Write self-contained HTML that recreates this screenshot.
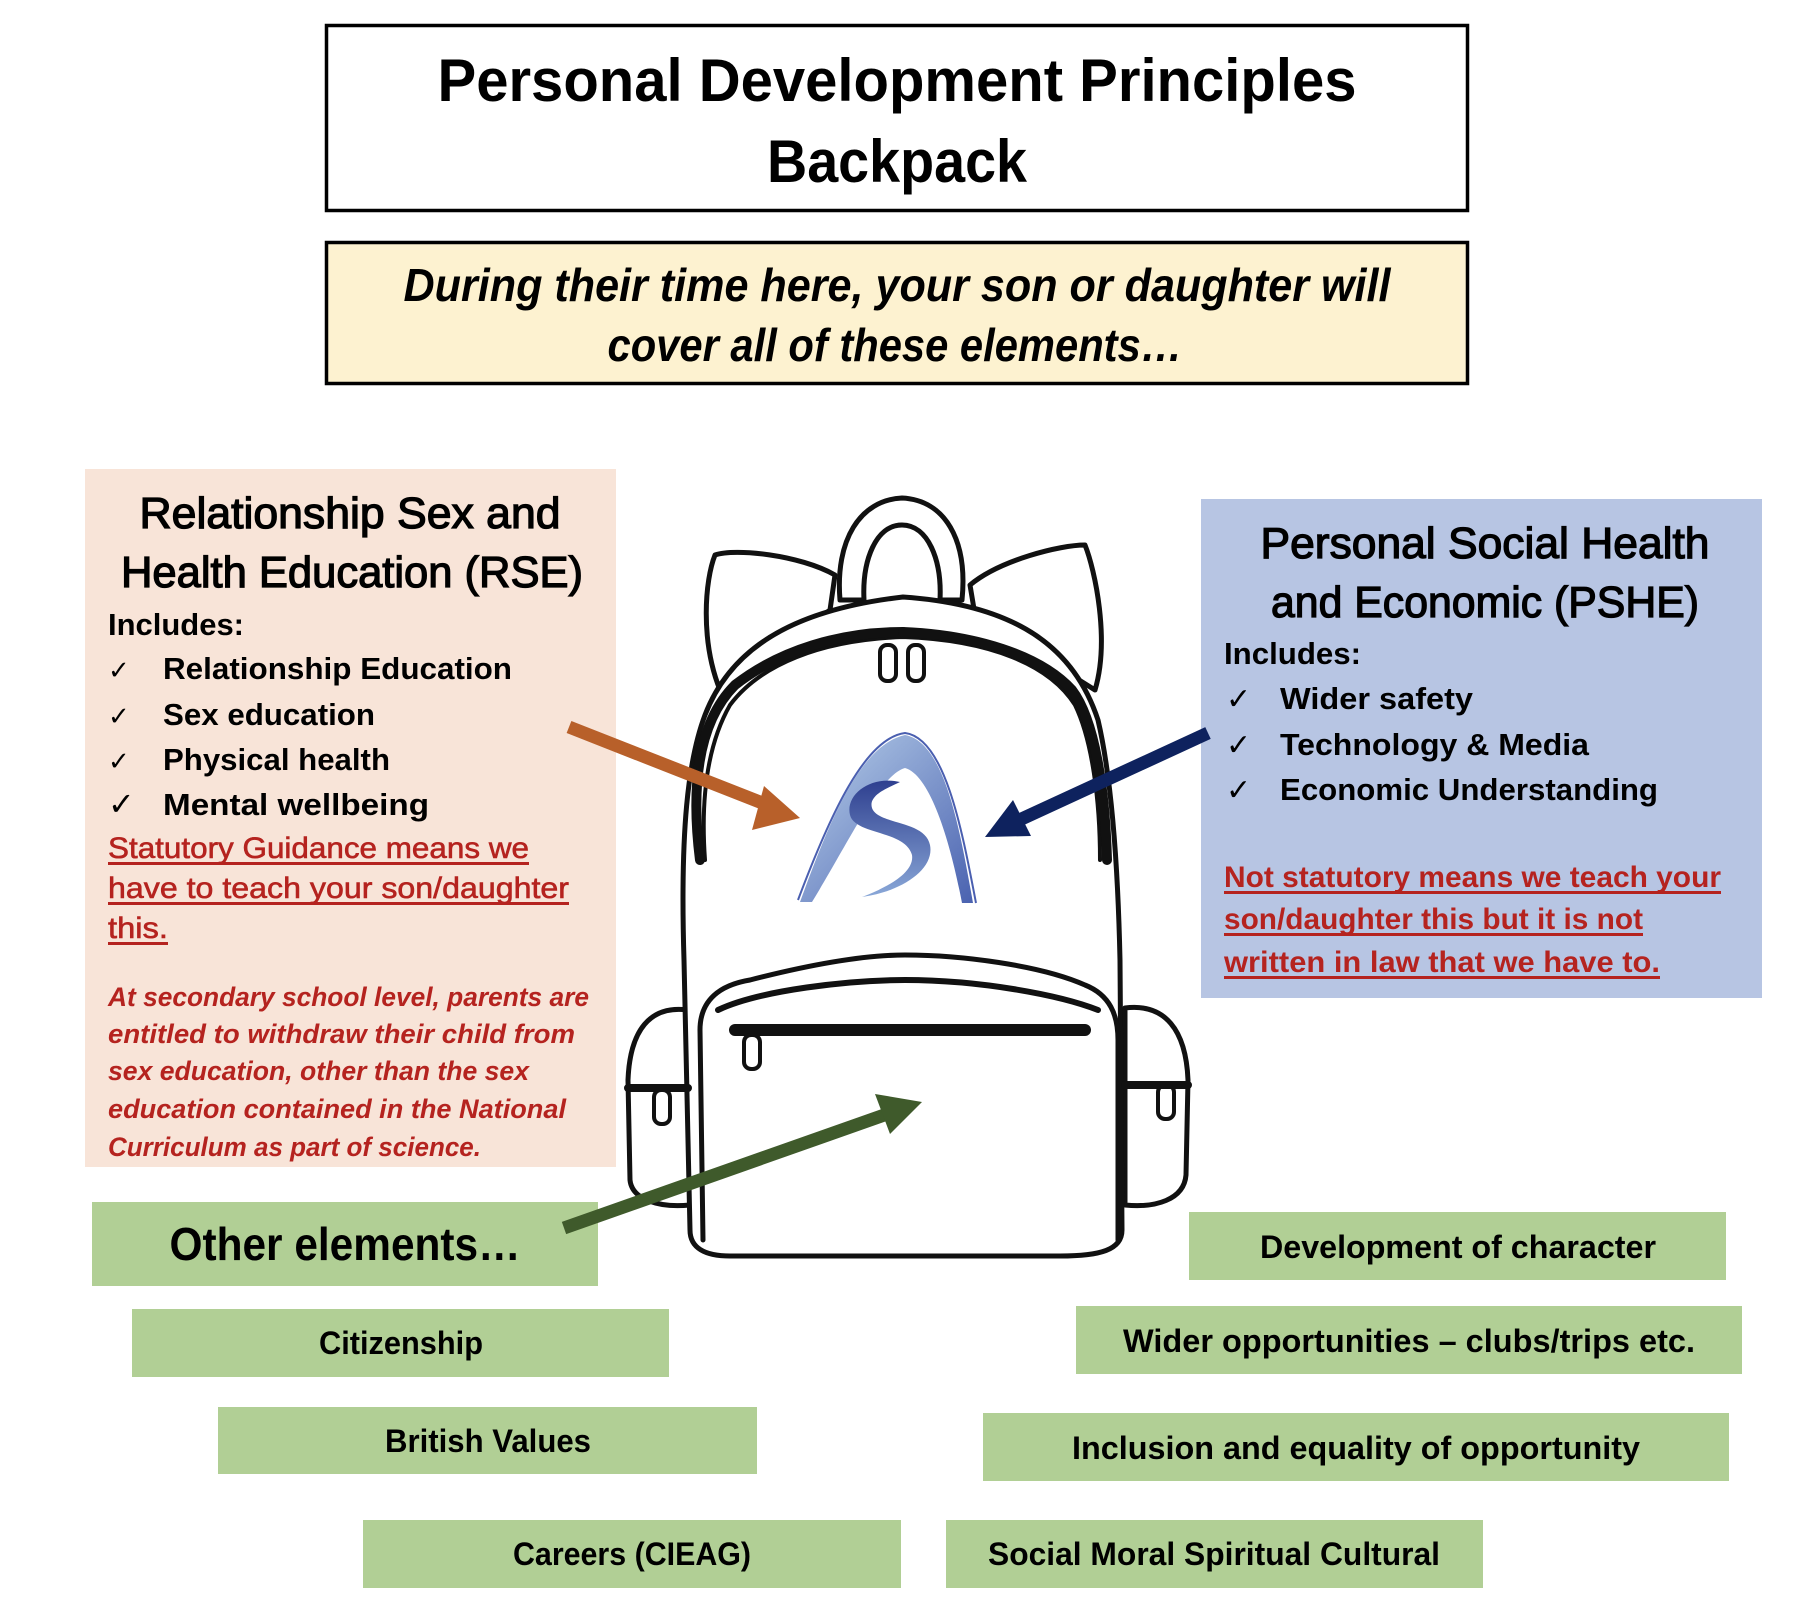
<!DOCTYPE html>
<html><head><meta charset="utf-8"><style>
html,body{margin:0;padding:0;background:#fff;}
svg{display:block;}
text{font-family:"Liberation Sans",sans-serif;}
</style></head><body>
<svg width="1796" height="1613" viewBox="0 0 1796 1613" xmlns="http://www.w3.org/2000/svg">
<defs>
<linearGradient id="lg1" x1="0" y1="0" x2="1" y2="1"><stop offset="0" stop-color="#b8d0ea"/><stop offset="1" stop-color="#4a62b0"/></linearGradient>
<linearGradient id="lg2" x1="0" y1="0" x2="0" y2="1"><stop offset="0" stop-color="#2e3f8f"/><stop offset="1" stop-color="#8aa8d8"/></linearGradient>
</defs>
<!-- Title box -->
<rect x="326.5" y="25.5" width="1141" height="185" fill="#fff" stroke="#000" stroke-width="3.5"/>
<text x="897" y="101" font-size="60" font-weight="bold" text-anchor="middle" textLength="919" lengthAdjust="spacingAndGlyphs">Personal Development Principles</text>
<text x="897" y="182" font-size="60" font-weight="bold" text-anchor="middle" textLength="260" lengthAdjust="spacingAndGlyphs">Backpack</text>
<!-- Yellow box -->
<rect x="326.5" y="242.5" width="1141" height="141" fill="#fdf2d0" stroke="#000" stroke-width="3.5"/>
<text x="897" y="301" font-size="46" font-weight="bold" font-style="italic" text-anchor="middle" textLength="987" lengthAdjust="spacingAndGlyphs">During their time here, your son or daughter will</text>
<text x="895" y="361" font-size="46" font-weight="bold" font-style="italic" text-anchor="middle" textLength="575" lengthAdjust="spacingAndGlyphs">cover all of these elements…</text>

<!-- RSE box -->
<rect x="85" y="469" width="531" height="698" fill="#f8e4d8"/>
<g fill="#000">
<text x="350" y="528" font-size="44" stroke="#000" stroke-width="1.3" text-anchor="middle" textLength="421" lengthAdjust="spacingAndGlyphs">Relationship Sex and</text>
<text x="352" y="587" font-size="44" stroke="#000" stroke-width="1.3" text-anchor="middle" textLength="462" lengthAdjust="spacingAndGlyphs">Health Education (RSE)</text>
<text x="108" y="635" font-size="31" font-weight="bold" textLength="136" lengthAdjust="spacingAndGlyphs">Includes:</text>
<text x="108" y="679" font-size="26">✓</text>
<text x="108" y="725" font-size="26">✓</text>
<text x="108" y="770" font-size="26">✓</text>
<text x="108" y="815" font-size="32">✓</text>
<text x="163" y="679" font-size="31" font-weight="bold" textLength="349" lengthAdjust="spacingAndGlyphs">Relationship Education</text>
<text x="163" y="725" font-size="31" font-weight="bold" textLength="212" lengthAdjust="spacingAndGlyphs">Sex education</text>
<text x="163" y="770" font-size="31" font-weight="bold" textLength="227" lengthAdjust="spacingAndGlyphs">Physical health</text>
<text x="163" y="815" font-size="31" font-weight="bold" textLength="266" lengthAdjust="spacingAndGlyphs">Mental wellbeing</text>
</g>
<g fill="#b5231f" stroke="#b5231f">
<text x="108" y="858" font-size="30" stroke-width="0.6" textLength="421" lengthAdjust="spacingAndGlyphs">Statutory Guidance means we</text>
<text x="108" y="898" font-size="30" stroke-width="0.6" textLength="461" lengthAdjust="spacingAndGlyphs">have to teach your son/daughter</text>
<text x="108" y="938" font-size="30" stroke-width="0.6" textLength="60" lengthAdjust="spacingAndGlyphs">this.</text>
<rect x="108" y="862" width="421" height="3" stroke="none"/>
<rect x="108" y="902" width="461" height="3" stroke="none"/>
<rect x="108" y="942" width="60" height="3" stroke="none"/>
</g>
<g fill="#b5231f" font-size="27" font-weight="bold" font-style="italic">
<text x="108" y="1006" textLength="481" lengthAdjust="spacingAndGlyphs">At secondary school level, parents are</text>
<text x="108" y="1043" textLength="467" lengthAdjust="spacingAndGlyphs">entitled to withdraw their child from</text>
<text x="108" y="1080" textLength="421" lengthAdjust="spacingAndGlyphs">sex education, other than the sex</text>
<text x="108" y="1118" textLength="458" lengthAdjust="spacingAndGlyphs">education contained in the National</text>
<text x="108" y="1156" textLength="373" lengthAdjust="spacingAndGlyphs">Curriculum as part of science.</text>
</g>

<!-- PSHE box -->
<rect x="1201" y="499" width="561" height="499" fill="#b7c5e3"/>
<g fill="#000">
<text x="1485" y="558" font-size="44" stroke="#000" stroke-width="1.3" text-anchor="middle" textLength="449" lengthAdjust="spacingAndGlyphs">Personal Social Health</text>
<text x="1485" y="617" font-size="44" stroke="#000" stroke-width="1.3" text-anchor="middle" textLength="428" lengthAdjust="spacingAndGlyphs">and Economic (PSHE)</text>
<text x="1224" y="664" font-size="31" font-weight="bold" textLength="137" lengthAdjust="spacingAndGlyphs">Includes:</text>
<text x="1226" y="709" font-size="30">✓</text>
<text x="1226" y="755" font-size="30">✓</text>
<text x="1226" y="800" font-size="30">✓</text>
<text x="1280" y="709" font-size="31" font-weight="bold" textLength="193" lengthAdjust="spacingAndGlyphs">Wider safety</text>
<text x="1280" y="755" font-size="31" font-weight="bold" textLength="309" lengthAdjust="spacingAndGlyphs">Technology &amp; Media</text>
<text x="1280" y="800" font-size="31" font-weight="bold" textLength="378" lengthAdjust="spacingAndGlyphs">Economic Understanding</text>
</g>
<g fill="#b5231f">
<text x="1224" y="887" font-size="30" font-weight="bold" textLength="497" lengthAdjust="spacingAndGlyphs">Not statutory means we teach your</text>
<text x="1224" y="929" font-size="30" font-weight="bold" textLength="419" lengthAdjust="spacingAndGlyphs">son/daughter this but it is not</text>
<text x="1224" y="972" font-size="30" font-weight="bold" textLength="436" lengthAdjust="spacingAndGlyphs">written in law that we have to.</text>
<rect x="1224" y="891" width="497" height="3"/>
<rect x="1224" y="933" width="419" height="3"/>
<rect x="1224" y="976" width="436" height="3"/>
</g>

<!-- Backpack -->
<g fill="#fff" stroke="#111" stroke-width="5" stroke-linejoin="round" stroke-linecap="round">
<path d="M840 600 C835 540 860 500 902 498 C945 500 968 540 962 600 L940 600 C942 560 928 525 902 525 C876 525 862 560 864 600 Z"/>
<path d="M720 690 C700 640 705 580 715 555 C735 548 800 555 835 575 L830 610 Z"/>
<path d="M1095 690 C1110 640 1095 570 1085 545 C1060 545 1000 560 970 585 L975 615 Z"/>
<path d="M688 1010 C650 1005 630 1030 628 1080 L630 1180 C632 1200 660 1208 690 1205 Z"/>
<path d="M1125 1008 C1165 1003 1186 1030 1188 1080 L1186 1175 C1184 1200 1155 1208 1125 1205 Z"/>
<path d="M690 1230 L684 960 C680 830 688 760 705 715 C730 650 790 610 903 597 C1020 605 1075 650 1098 720 C1112 780 1118 870 1120 960 L1122 1230 C1122 1250 1100 1256 1060 1256 L730 1256 C705 1256 690 1248 690 1230 Z"/>
<path d="M705 860 C700 790 710 740 730 705 C760 665 820 640 903 637 C990 640 1050 665 1075 705 C1092 740 1100 800 1100 860" fill="none" stroke-width="4"/>
<path d="M700 860 C690 780 700 720 735 685 C780 650 840 632 903 632" fill="none" stroke-width="10"/>
<path d="M903 632 C975 635 1040 655 1072 690 C1095 720 1105 790 1107 860" fill="none" stroke-width="10"/>
<path d="M703 1240 L700 1030 C700 1000 720 985 750 980 C820 962 870 955 905 955 C960 955 1040 965 1085 985 C1110 995 1118 1015 1118 1040 L1118 1240" fill="#fff" stroke-width="5"/>
<path d="M718 1010 C760 990 850 980 905 980 C980 980 1060 995 1098 1010" fill="none" stroke-width="6"/>
<path d="M735 1030 L1085 1030" stroke-width="12"/>
<rect x="880" y="645" width="16" height="36" rx="7" stroke-width="4"/>
<rect x="908" y="645" width="16" height="36" rx="7" stroke-width="4"/>
<rect x="744" y="1035" width="16" height="34" rx="7" stroke-width="4"/>
<rect x="654" y="1090" width="16" height="34" rx="7" stroke-width="4"/>
<rect x="1158" y="1085" width="16" height="34" rx="7" stroke-width="4"/>
<path d="M628 1088 L688 1088 M1125 1085 L1188 1085" stroke-width="8"/>
</g>
<!-- logo -->
<path d="M800 902 C830 820 860 745 905 735 C945 742 960 830 973 903 L962 903 C950 840 930 775 905 768 C880 775 850 840 812 902 Z" fill="url(#lg1)"/>
<path d="M798 900 C830 815 865 738 905 733 C945 738 962 830 976 903" fill="none" stroke="#4a5fb0" stroke-width="2"/>
<path d="M900 782 C870 775 845 795 850 815 C855 835 905 830 912 855 C915 875 880 890 862 897 C900 892 935 870 930 845 C925 820 878 825 872 808 C868 795 888 788 900 782 Z" fill="url(#lg2)"/>

<!-- green boxes -->
<g fill="#b1cf95">
<rect x="92" y="1202" width="506" height="84"/>
<rect x="132" y="1309" width="537" height="68"/>
<rect x="218" y="1407" width="539" height="67"/>
<rect x="363" y="1520" width="538" height="68"/>
<rect x="1189" y="1212" width="537" height="68"/>
<rect x="1076" y="1306" width="666" height="68"/>
<rect x="983" y="1413" width="746" height="68"/>
<rect x="946" y="1520" width="537" height="68"/>
</g>

<!-- arrows -->
<g stroke-linecap="butt">
<line x1="569" y1="727" x2="770" y2="806" stroke="#b8602a" stroke-width="13"/>
<polygon points="800,818 752,830 764,786" fill="#b8602a"/>
<line x1="1208" y1="733" x2="1015" y2="822" stroke="#0e225e" stroke-width="13"/>
<polygon points="985,837 1013,800 1031,836" fill="#0e225e"/>
<line x1="564" y1="1228" x2="890" y2="1113" stroke="#3f5a2b" stroke-width="13"/>
<polygon points="922,1102 890,1134 875,1094" fill="#3f5a2b"/>
</g>

<g fill="#000" font-weight="bold" text-anchor="middle">
<text x="345" y="1260" font-size="46" textLength="351" lengthAdjust="spacingAndGlyphs">Other elements…</text>
<text x="401" y="1354" font-size="32" textLength="164" lengthAdjust="spacingAndGlyphs">Citizenship</text>
<text x="488" y="1452" font-size="32" textLength="206" lengthAdjust="spacingAndGlyphs">British Values</text>
<text x="632" y="1565" font-size="32" textLength="238" lengthAdjust="spacingAndGlyphs">Careers (CIEAG)</text>
<text x="1458" y="1258" font-size="32" textLength="396" lengthAdjust="spacingAndGlyphs">Development of character</text>
<text x="1409" y="1352" font-size="32" textLength="572" lengthAdjust="spacingAndGlyphs">Wider opportunities – clubs/trips etc.</text>
<text x="1356" y="1459" font-size="32" textLength="568" lengthAdjust="spacingAndGlyphs">Inclusion and equality of opportunity</text>
<text x="1214" y="1565" font-size="32" textLength="452" lengthAdjust="spacingAndGlyphs">Social Moral Spiritual Cultural</text>
</g>
</svg>
</body></html>
